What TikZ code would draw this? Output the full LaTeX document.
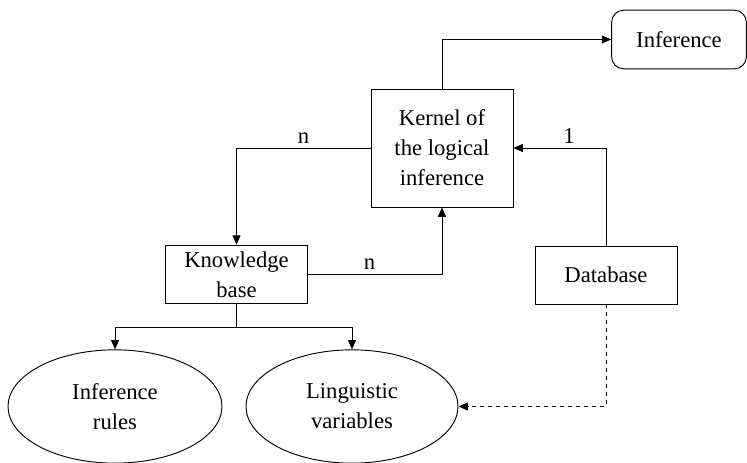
\documentclass[tikz,border=0pt]{standalone}
\usepackage{fontspec}
\setmainfont{Liberation Serif}
\usetikzlibrary{shapes,arrows.meta,positioning,calc}
\tikzset{
block/.style = {draw, fill=white, rectangle, align = center, inner sep=0pt},
output/.style = {draw, fill=white, rectangle, rounded corners=9pt, align = center, inner sep=0pt},
store/.style = {draw, fill=white, ellipse, align = center, inner sep=0pt},
link/.style = {-{Triangle[length=7pt,width=6pt]}},
}

\begin{document}
\begin{tikzpicture}[x=0.75pt, y=-0.75pt, line width=0.7pt,
    font=\fontsize{17}{22.5}\selectfont]
      \useasboundingbox (0,0) rectangle (747,463);
      \node [block, minimum width=106.5pt, minimum height=88.5pt] (kernel) at (442,148)
         {Kernel of\\the logical\\inference};
      \node [output, minimum width=101pt, minimum height=44pt] (infer) at (679,39.5) {Inference};
      \node [block, minimum width=106pt, minimum height=44pt] (kbase) at (236.5,274.5) {Knowledge\\base};
      \node [block, minimum width=106.5pt, minimum height=43.5pt] (dbase) at (606,275) {Database};
      \node [store, minimum width=160.5pt, minimum height=85pt] (rules) at (115,406.5) {Inference\\rules};
      \node [store, minimum width=159pt, minimum height=85pt] (lingvar) at (352,406.5) {Linguistic\\variables};
      \coordinate (split) at ($(kbase.south)+(0,23)$);
      \draw [link] (kernel.north) |- (infer.west);
      \draw [link] (kernel.west) -| node [pos=0.25, above] {n} (kbase.north);
      \draw [link] (kbase.east) -| node [pos=0.23, above] {n} (kernel.south);
      \draw [link] (dbase.north) |- node [pos=0.7, above] {1} (kernel.east);
      \draw [link, dashed] (dbase.south) |- (lingvar.east);
      \draw [-] (kbase.south) -- (split);
      \draw [link] (split) -| (rules.north);
      \draw [link] (split) -| (lingvar.north);
\end{tikzpicture}
\end{document}
